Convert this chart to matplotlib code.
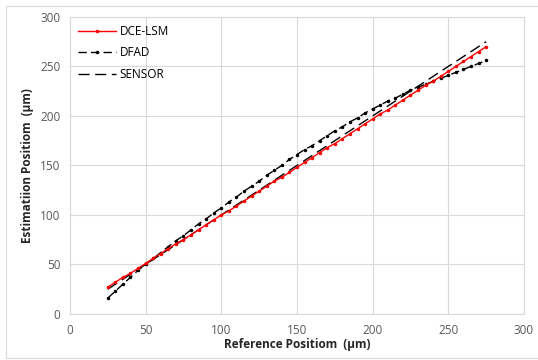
import numpy as np
import matplotlib.pyplot as plt
from matplotlib.patches import Rectangle

# Reference positions (um), sampled every 5 um
ref_pos = [25, 30, 35, 40, 45, 50, 55, 60, 65, 70, 75, 80, 85, 90, 95, 100,
           105, 110, 115, 120, 125, 130, 135, 140, 145, 150, 155, 160, 165, 170,
           175, 180, 185, 190, 195, 200, 205, 210, 215, 220, 225, 230, 235, 240,
           245, 250, 255, 260, 265, 270, 275]

# Estimated positions for each method
dce_lsm = [27, 32, 37, 41, 46, 51, 56, 61, 66, 71, 75, 80, 85, 90, 95, 100,
           104, 109, 114, 119, 124, 129, 134, 138, 143, 148, 153, 158, 163, 168,
           172, 177, 182, 187, 192, 197, 202, 206, 211, 216, 221, 226, 231, 235,
           240, 245, 250, 255, 260, 265, 270]
dfad = [16, 23, 30, 37, 44, 50, 56, 62, 68, 74, 79, 85, 91, 96, 102, 107,
        113, 118, 124, 129, 134, 140, 145, 150, 156, 161, 166, 170, 175, 180,
        185, 189, 194, 198, 203, 207, 211, 215, 218, 222, 226, 229, 232, 235,
        238, 241, 244, 247, 250, 253, 256]
sensor = [25, 30, 35, 40, 45, 50, 55, 60, 65, 70, 75, 80, 85, 90, 95, 100,
          105, 110, 115, 120, 125, 130, 135, 140, 145, 150, 155, 160, 165, 170,
          175, 180, 185, 190, 195, 200, 205, 210, 215, 220, 225, 230, 235, 240,
          245, 250, 255, 260, 265, 270, 275]

plt.rcParams['font.family'] = ['Open Sans', 'DejaVu Sans']

fig = plt.figure(figsize=(5.38, 3.6), dpi=100)
ax = fig.add_axes([0.130, 0.128, 0.844, 0.825])

# outer chart frame
fig.patches.append(Rectangle((0.011, 0.006), 1.2, 0.977, transform=fig.transFigure,
                             fill=False, edgecolor='#d9d9d9', linewidth=0.8))

ax.plot(ref_pos, dce_lsm, color='#ff0000', linewidth=1.0, marker='o',
        markersize=1.5, label='DCE-LSM', zorder=4)
ax.plot(ref_pos, dfad, color='black', linewidth=1.0, marker='o', markersize=1.5,
        dashes=(6, 3), label='DFAD', zorder=3)
ax.plot(ref_pos, sensor, color='black', linewidth=1.0, dashes=(8, 4),
        label='SENSOR', zorder=2)

ax.set_xlim(0, 300)
ax.set_ylim(0, 300)
ax.set_xticks(np.arange(0, 301, 50))
ax.set_yticks(np.arange(0, 301, 50))
ax.grid(True, color='#d9d9d9', linewidth=0.8)
ax.set_axisbelow(True)
for s in ax.spines.values():
    s.set_color('#d9d9d9')
    s.set_linewidth(0.8)
ax.tick_params(length=0, labelsize=8.5, labelcolor='#595959', pad=7)

ax.set_xlabel('Reference Positiom  (μm)', fontsize=8.5, fontweight='bold',
              color='#262626', labelpad=1)
ax.set_ylabel('Estimatiion Positiom  (μm)', fontsize=8.5, fontweight='bold',
              color='#262626', labelpad=4)

ax.legend(loc='upper left', frameon=False, fontsize=8.5, handlelength=3.2,
          handletextpad=0.3, labelspacing=0.7, borderaxespad=0.3,
          bbox_to_anchor=(0.0, 1.0))

fig.savefig('out.png', dpi=100)
